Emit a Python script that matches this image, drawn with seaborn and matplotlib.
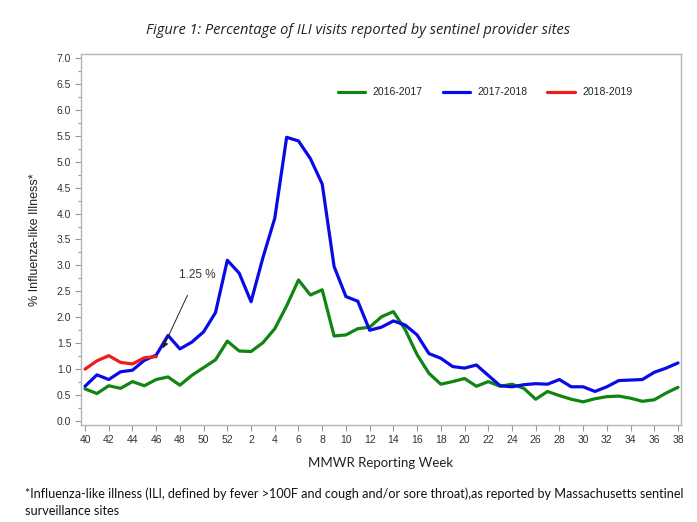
import numpy as np
import pandas as pd
import matplotlib
matplotlib.use("Agg")
import matplotlib.pyplot as plt
import seaborn as sns
from matplotlib.ticker import MultipleLocator

# MMWR weeks: 40..52 then 1..38
weeks = list(range(40, 53)) + list(range(1, 39))

ili_2016_2017 = [
    0.62, 0.53, 0.68, 0.63, 0.76, 0.68, 0.80, 0.85, 0.69, 0.88, 1.03, 1.18, 1.54,
    1.35, 1.34, 1.51, 1.78, 2.22, 2.72, 2.43, 2.53, 1.64, 1.66, 1.78, 1.81, 2.01,
    2.11, 1.76, 1.28, 0.92, 0.71, 0.76, 0.82, 0.67, 0.76, 0.67, 0.71, 0.63, 0.42,
    0.57, 0.49, 0.42, 0.37, 0.43, 0.47, 0.48, 0.44, 0.38, 0.41, 0.54, 0.65,
]
ili_2017_2018 = [
    0.67, 0.89, 0.80, 0.95, 0.98, 1.17, 1.27, 1.65, 1.39, 1.52, 1.72, 2.09, 3.10,
    2.85, 2.30, 3.15, 3.91, 5.47, 5.40, 5.06, 4.57, 2.98, 2.40, 2.31, 1.75, 1.81,
    1.93, 1.85, 1.66, 1.30, 1.21, 1.05, 1.02, 1.08, 0.88, 0.68, 0.66, 0.70, 0.72,
    0.71, 0.80, 0.66, 0.66, 0.57, 0.66, 0.78, 0.79, 0.80, 0.94, 1.02, 1.12,
]
ili_2018_2019 = [1.00, 1.16, 1.26, 1.13, 1.10, 1.22, 1.24]

seasons = ["2016-2017", "2017-2018", "2018-2019"]
colors = ["#118511", "#0a0ae6", "#ee1c1c"]

rows = []
for season, vals in zip(seasons, [ili_2016_2017, ili_2017_2018, ili_2018_2019]):
    for i, v in enumerate(vals):
        rows.append({"pos": i, "week": weeks[i], "ili": v, "season": season})
df = pd.DataFrame(rows)

sns.set_style("white")
plt.rcParams["font.family"] = ["Liberation Sans", "DejaVu Sans"]

fig = plt.figure(figsize=(6.97, 5.22), dpi=100)
ax = fig.add_axes([0.1162, 0.1858, 0.8608, 0.7108])

sns.lineplot(data=df, x="pos", y="ili", hue="season", palette=colors,
             linewidth=2.3, ax=ax, legend=True)

ax.set_xlim(-0.34, 50.25)
ax.set_ylim(-0.077, 7.077)

tick_pos = list(range(0, len(weeks), 2))
ax.set_xticks(tick_pos)
ax.set_xticklabels([str(weeks[p]) for p in tick_pos], fontsize=7.5, color="#333333")
ax.yaxis.set_major_locator(MultipleLocator(0.5))
ax.yaxis.set_minor_locator(MultipleLocator(0.25))
ax.set_yticks(np.arange(0, 7.01, 0.5))
ax.set_yticklabels([f"{v:.1f}" for v in np.arange(0, 7.01, 0.5)], fontsize=7.5, color="#333333")
ax.tick_params(axis="both", which="major", length=4, width=0.8, color="#999999", pad=3,
               bottom=True, left=True)
ax.tick_params(axis="y", which="minor", length=2.5, width=0.8, color="#999999", left=True)

for s in ax.spines.values():
    s.set_color("#b5b5b5")
    s.set_linewidth(1.0)

ax.set_xlabel("MMWR Reporting Week", fontsize=9.5, color="#222222",
              family=["Lato", "DejaVu Sans"], labelpad=9)
ax.set_ylabel("% Influenza-like Illness*", fontsize=9, color="#222222", labelpad=11)

leg = ax.legend(loc="upper right", bbox_to_anchor=(0.935, 0.935), ncol=3, frameon=False,
                fontsize=7.5, handlelength=2.6, columnspacing=1.9, handletextpad=0.75)
for line in leg.get_lines():
    line.set_linewidth(2.3)

ax.annotate("1.25 %", xy=(6.55, 1.40), xytext=(9.44, 2.82), fontsize=8.5,
            color="#333333", ha="center", va="center",
            arrowprops=dict(arrowstyle="-|>", color="#222222", lw=0.7,
                            mutation_scale=9, shrinkA=9, shrinkB=0))

fig.text(0.513, 0.942, "Figure 1: Percentage of ILI visits reported by sentinel provider sites",
         ha="center", va="center", fontsize=10.5, style="italic", color="#222222",
         family=["Open Sans", "DejaVu Sans"])

fig.text(0.036, 0.038,
         "*Influenza-like illness (ILI, defined by fever >100F and cough and/or sore throat),as reported by Massachusetts sentinel\nsurveillance sites",
         ha="left", va="center", fontsize=9.1, color="#111111", linespacing=1.45,
         family=["Lato", "DejaVu Sans"])

fig.savefig("out.png", dpi=100)
